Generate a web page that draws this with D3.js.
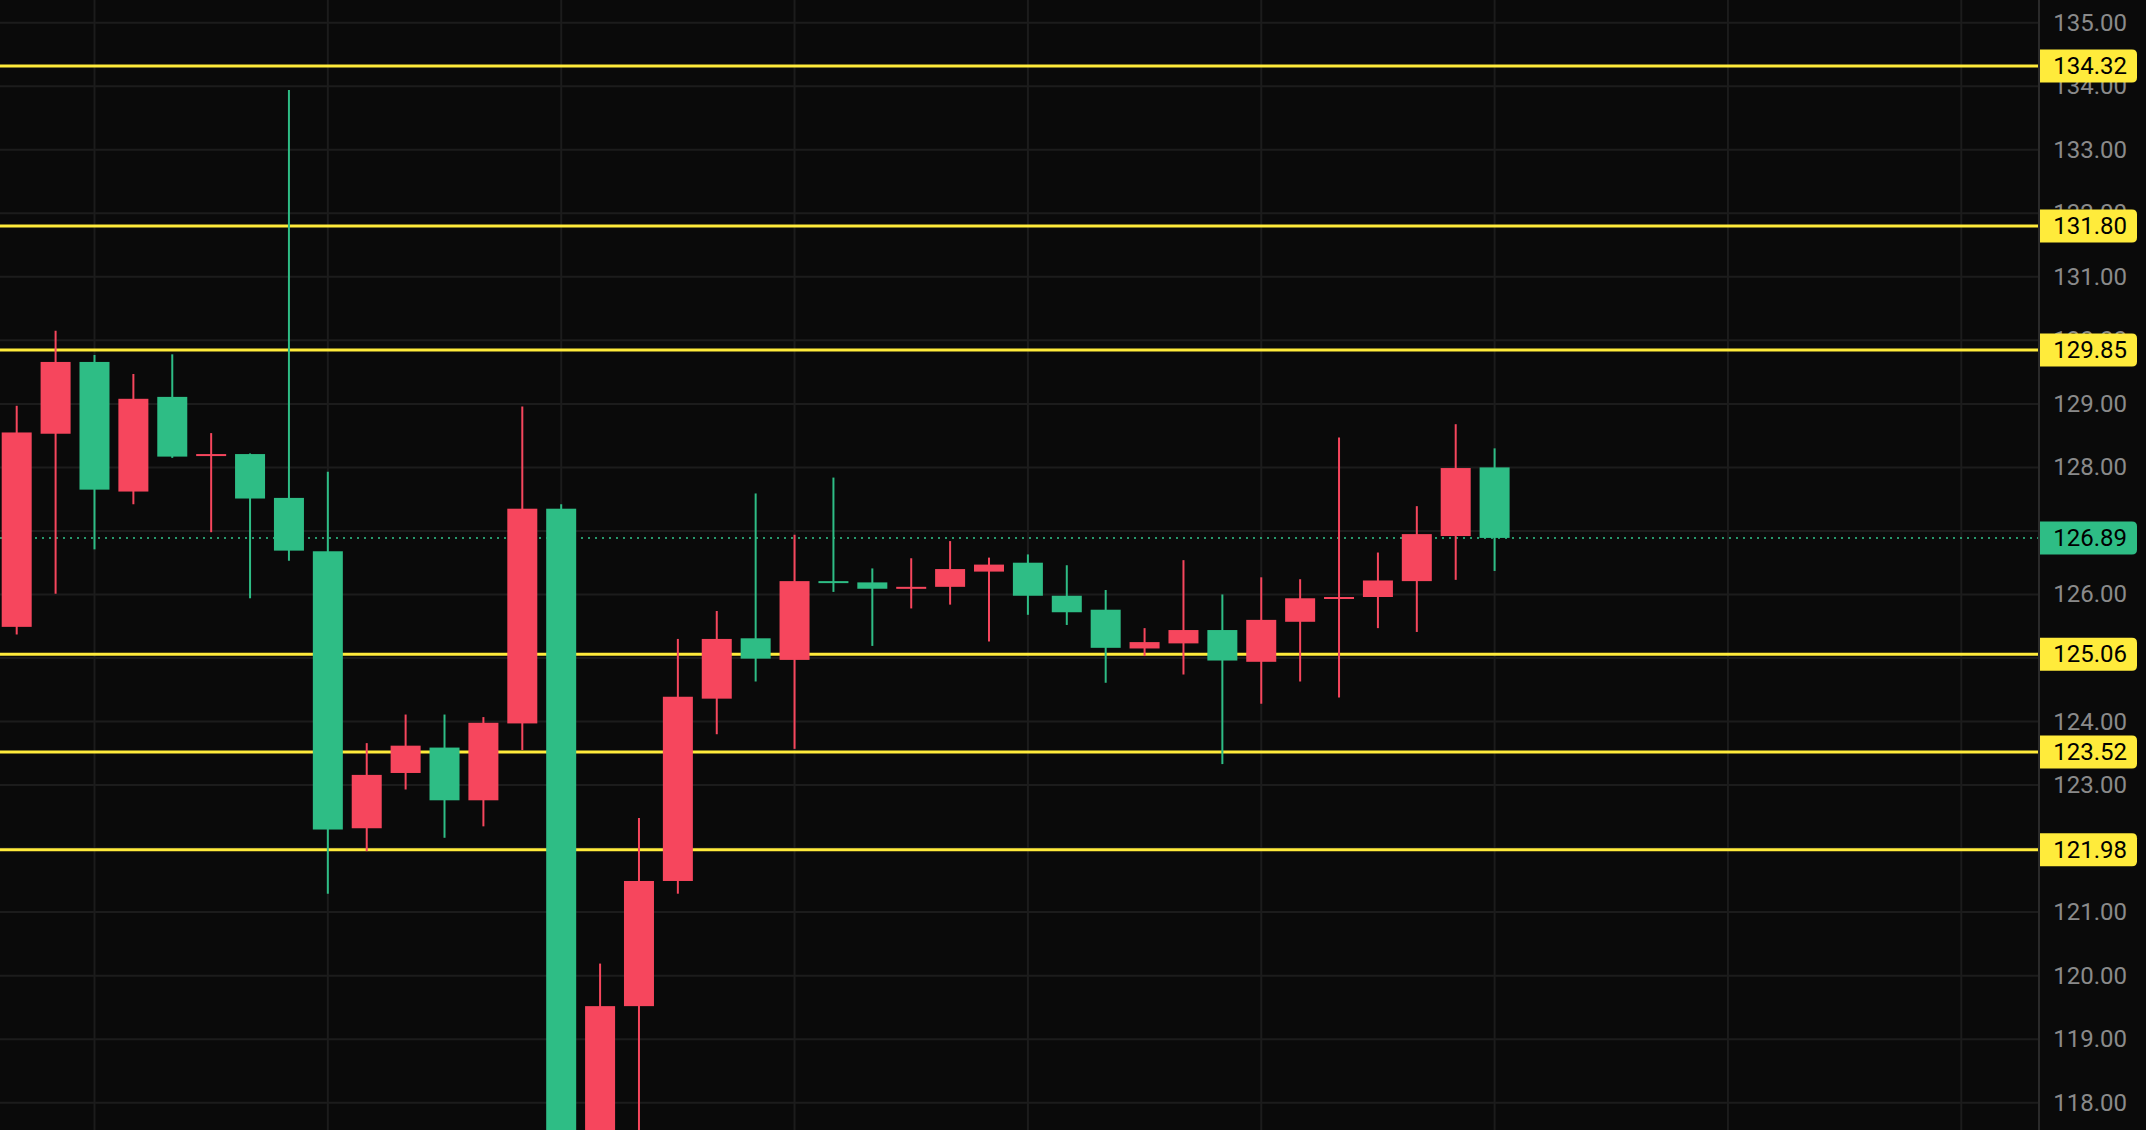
<!DOCTYPE html>
<html>
<head>
<meta charset="utf-8">
<script src="https://cdn.jsdelivr.net/npm/d3@7"></script>
<style>
  html, body { margin: 0; padding: 0; background: #0a0a0a; }
  svg { display: block; }
  text { font-family: Roboto, "Liberation Sans", sans-serif; }
</style>
</head>
<body>
<svg class="chart"></svg>
<script>
// candle data, oldest first
const opens  = [125.49, 128.53, 129.66, 127.62, 129.11, 128.19, 128.21, 127.52, 126.68, 122.32,
                123.19, 123.59, 122.76, 123.97, 127.35, 117.20, 119.52, 121.49, 124.36, 125.31,
                124.97, 126.21, 126.19, 126.10, 126.12, 126.36, 126.50, 125.98, 125.76, 125.15,
                125.23, 125.44, 124.94, 125.57, 125.93, 125.96, 126.21, 126.92, 128.00];
const highs  = [128.97, 130.15, 129.77, 129.47, 129.78, 128.54, 128.22, 133.94, 127.93, 123.66,
                124.11, 124.11, 124.07, 128.96, 127.42, 120.19, 122.48, 125.30, 125.74, 127.59,
                126.94, 127.84, 126.41, 126.57, 126.84, 126.58, 126.63, 126.46, 126.07, 125.47,
                126.54, 126.00, 126.27, 126.24, 128.47, 126.66, 127.39, 128.68, 128.30];
const lows   = [125.37, 126.01, 126.71, 127.42, 128.15, 126.98, 125.94, 126.53, 121.29, 121.96,
                122.93, 122.17, 122.35, 123.55, 116.80, 116.90, 117.30, 121.29, 123.80, 124.63,
                123.57, 126.04, 125.19, 125.78, 125.84, 125.26, 125.68, 125.52, 124.61, 125.03,
                124.74, 123.33, 124.28, 124.63, 124.38, 125.47, 125.41, 126.23, 126.37];
const closes = [128.55, 129.66, 127.65, 129.08, 128.17, 128.21, 127.51, 126.69, 122.30, 123.16,
                123.62, 122.76, 123.98, 127.35, 117.10, 119.52, 121.49, 124.39, 125.30, 124.99,
                126.21, 126.20, 126.09, 126.12, 126.40, 126.47, 125.98, 125.72, 125.16, 125.25,
                125.44, 124.96, 125.60, 125.94, 125.96, 126.22, 126.95, 127.99, 126.89];

// horizontal levels drawn in yellow
const levels = [134.32, 131.80, 129.85, 125.06, 123.52, 121.98];
const lastPrice = 126.89;
const priceTicks = d3.range(118, 136, 1);

const width = 2146, height = 1130;
const plotRight = 2039;
const up = '#f6465d', down = '#2ebd85', yellow = '#ffeb3b';

const candles = opens.map((o, i) => ({ i, o, h: highs[i], l: lows[i], c: closes[i] }));

const x = d3.scaleLinear()
  .domain([0, candles.length - 1])
  .range([16.7, 1494.6]);
const bodyW = 30;

const y = d3.scaleLinear()
  .domain([118, 135])
  .range([1102.7, 22.7]);

const svg = d3.select('.chart')
  .attr('width', width)
  .attr('height', height);

svg.append('rect')
  .attr('width', width).attr('height', height)
  .attr('fill', '#0a0a0a');

svg.append('defs').append('clipPath').attr('id', 'plot')
  .append('rect').attr('width', plotRight).attr('height', height);

const plot = svg.append('g').attr('clip-path', 'url(#plot)');

// grid
plot.selectAll('.hgrid')
  .data(priceTicks)
  .enter().append('line')
    .attr('x1', 0).attr('x2', plotRight)
    .attr('y1', d => y(d)).attr('y2', d => y(d))
    .attr('stroke', '#1c1c1c').attr('stroke-width', 2);

plot.selectAll('.vgrid')
  .data(d3.range(2, 53, 6))
  .enter().append('line')
    .attr('x1', d => x(d)).attr('x2', d => x(d))
    .attr('y1', 0).attr('y2', height)
    .attr('stroke', '#1c1c1c').attr('stroke-width', 2);

// levels
plot.selectAll('.level')
  .data(levels)
  .enter().append('line')
    .attr('x1', 0).attr('x2', plotRight)
    .attr('y1', d => y(d)).attr('y2', d => y(d))
    .attr('stroke', yellow).attr('stroke-width', 3);

// last price dotted line
plot.append('line')
  .attr('x1', 0).attr('x2', plotRight)
  .attr('y1', y(lastPrice)).attr('y2', y(lastPrice))
  .attr('stroke', down).attr('stroke-opacity', 0.8)
  .attr('stroke-width', 2).attr('stroke-dasharray', '2,5');

// candles
const color = d => d.c >= d.o ? up : down;

plot.selectAll('.wick')
  .data(candles)
  .enter().append('line')
    .attr('x1', d => x(d.i)).attr('x2', d => x(d.i))
    .attr('y1', d => y(d.h)).attr('y2', d => y(d.l))
    .attr('stroke', color).attr('stroke-width', 2);

plot.selectAll('.body')
  .data(candles)
  .enter().append('rect')
    .attr('x', d => x(d.i) - bodyW / 2)
    .attr('width', bodyW)
    .attr('y', d => y(Math.max(d.o, d.c)))
    .attr('height', d => Math.max(2, Math.abs(y(d.o) - y(d.c))))
    .attr('fill', color);

// price axis
svg.append('line')
  .attr('x1', plotRight).attr('x2', plotRight)
  .attr('y1', 0).attr('y2', height)
  .attr('stroke', '#2a2a2a').attr('stroke-width', 2);

// tick labels fully hidden under a price tag are skipped
const tagged = levels.concat([lastPrice]);
const shownTicks = priceTicks.filter(t => tagged.every(v => Math.abs(y(t) - y(v)) >= 8));

svg.selectAll('.tick')
  .data(shownTicks)
  .enter().append('text')
    .attr('x', 2127)
    .attr('y', d => y(d))
    .attr('text-anchor', 'end')
    .attr('dominant-baseline', 'central')
    .attr('font-size', 24)
    .attr('fill', '#8a8a8a')
    .text(d => d.toFixed(2));

function tag(g, v, fill) {
  const top = y(v) - 16.5, left = plotRight + 1, w = 97, h = 33, r = 5;
  g.append('path')
    .attr('d', `M${left},${top}H${left + w - r}Q${left + w},${top} ${left + w},${top + r}` +
               `V${top + h - r}Q${left + w},${top + h} ${left + w - r},${top + h}H${left}Z`)
    .attr('fill', fill);
  g.append('text')
    .attr('x', 2127)
    .attr('y', y(v))
    .attr('text-anchor', 'end')
    .attr('dominant-baseline', 'central')
    .attr('font-size', 24)
    .attr('fill', '#000')
    .text(v.toFixed(2));
}

const tags = svg.append('g');
levels.forEach(v => tag(tags, v, yellow));
tag(tags, lastPrice, down);
</script>
</body>
</html>
